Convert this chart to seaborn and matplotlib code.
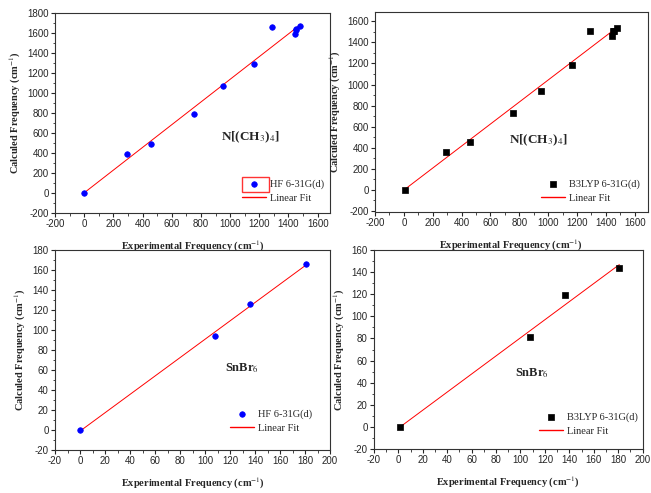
import numpy as np
import pandas as pd
import matplotlib
matplotlib.use('Agg')
import matplotlib.pyplot as plt
import seaborn as sns
from matplotlib.patches import Rectangle
from matplotlib.ticker import MultipleLocator

sns.set_style('ticks')
plt.rcParams['font.family'] = ['Liberation Serif', 'DejaVu Serif']
plt.rcParams['mathtext.fontset'] = 'stix'
plt.rcParams['axes.unicode_minus'] = False

# N[(CH3)4] data
nme4_exp = [0, 290, 455, 750, 950, 1165, 1290, 1445, 1450, 1455, 1480]
nme4_hf = [0, 385, 485, 790, 1065, 1290, 1655, 1590, 1625, 1635, 1665]
nme4_b3lyp_exp = [5, 290, 455, 755, 950, 1165, 1290, 1445, 1450, 1455, 1480]
nme4_b3lyp = [0, 360, 455, 730, 940, 1190, 1510, 1460, 1505, 1510, 1540]

# SnBr6 data
snbr6_exp = [0, 108, 136, 181]
snbr6_hf = [0, 94, 126, 166]
snbr6_b3lyp_exp = [1, 108, 136.5, 181]
snbr6_b3lyp = [0, 81, 119, 144]

fig = plt.figure(figsize=(6.51, 4.93), dpi=100)

panels = [
    dict(rect=[0.0845, 0.568, 0.4225, 0.406], x=nme4_exp, y=nme4_hf, label='HF 6-31G(d)',
         marker='o', color='#0000ff', xlim=(-200, 1685), ylim=(-200, 1800), major=200, minor=100,
         title=r'N[(CH$_3$)$_4$]', tsize=9.5, tpos=(0.71, 0.38), leg=(0.68, 0.05)),
    dict(rect=[0.576, 0.570, 0.419, 0.406], x=nme4_b3lyp_exp, y=nme4_b3lyp, label='B3LYP 6-31G(d)',
         marker='s', color='black', xlim=(-200, 1690), ylim=(-210, 1690), major=200, minor=100,
         title=r'N[(CH$_3$)$_4$]', tsize=9.5, tpos=(0.60, 0.36), leg=(0.61, 0.045)),
    dict(rect=[0.0845, 0.0872, 0.4225, 0.4057], x=snbr6_exp, y=snbr6_hf, label='HF 6-31G(d)',
         marker='o', color='#0000ff', xlim=(-20, 200), ylim=(-20, 180), major=20, minor=10,
         title=r'SnBr$_6$', tsize=9, tpos=(0.68, 0.41), leg=(0.636, 0.085)),
    dict(rect=[0.5745, 0.0892, 0.4125, 0.4037], x=snbr6_b3lyp_exp, y=snbr6_b3lyp, label='B3LYP 6-31G(d)',
         marker='s', color='black', xlim=(-20, 200), ylim=(-20, 160), major=20, minor=10,
         title=r'SnBr$_6$', tsize=9, tpos=(0.59, 0.38), leg=(0.613, 0.065)),
]

legends = []
for i, p in enumerate(panels):
    ax = fig.add_axes(p['rect'])
    df = pd.DataFrame({'x': p['x'], 'y': p['y']})
    sns.scatterplot(data=df, x='x', y='y', ax=ax, marker=p['marker'], color=p['color'],
                    s=16, edgecolor=p['color'], linewidth=0.5, label=p['label'], zorder=3)
    k, b = np.polyfit(df.x, df.y, 1)
    fit = pd.DataFrame({'x': [df.x.min(), df.x.max()]})
    fit['y'] = k * fit.x + b
    sns.lineplot(data=fit, x='x', y='y', ax=ax, color='red', linewidth=0.7, label='Linear Fit')
    ax.set_xlim(p['xlim'])
    ax.set_ylim(p['ylim'])
    ax.xaxis.set_major_locator(MultipleLocator(p['major']))
    ax.xaxis.set_minor_locator(MultipleLocator(p['minor']))
    ax.yaxis.set_major_locator(MultipleLocator(p['major']))
    ax.yaxis.set_minor_locator(MultipleLocator(p['minor']))
    ax.tick_params(which='major', direction='out', length=3, width=0.8, labelsize=7, pad=1.5)
    ax.tick_params(which='minor', direction='out', length=1.8, width=0.6)
    for lab in ax.get_xticklabels() + ax.get_yticklabels():
        lab.set_fontfamily('Liberation Sans')
    for s in ax.spines.values():
        s.set_linewidth(0.8)
        s.set_color('#333333')
    ax.set_xlabel(r'Experimental Frequency (cm$^{-1}$)', fontsize=7.5, fontweight='bold', labelpad=7)
    ax.set_ylabel(r'Calculed Frequency (cm$^{-1}$)', fontsize=7.5, fontweight='bold', labelpad=3)
    ax.text(p['tpos'][0], p['tpos'][1], p['title'], transform=ax.transAxes, fontsize=p['tsize'],
            fontweight='bold', ha='center', va='center')
    leg = ax.legend(loc='lower left', bbox_to_anchor=p['leg'], frameon=False, fontsize=7.5,
                    handlelength=2.3, handletextpad=0.4, borderpad=0, borderaxespad=0,
                    labelspacing=0.45)
    for ln in leg.get_lines():
        ln.set_color('red')
        ln.set_linewidth(1.0)
    legends.append(leg)

# red box round the first legend marker (top-left panel)
fig.canvas.draw()
t0 = legends[0].get_texts()[0].get_window_extent()
fs = 7.5 * fig.dpi / 72
x1 = t0.x0 - 0.15 * fs
x0 = t0.x0 - (0.4 + 2.3) * fs
yc = (t0.y0 + t0.y1) / 2
inv = fig.transFigure.inverted()
(fx0, fy0), (fx1, fy1) = inv.transform([(x0, yc - 7.5), (x1, yc + 7.5)])
fig.add_artist(Rectangle((fx0, fy0), fx1 - fx0, fy1 - fy0, transform=fig.transFigure,
                         fill=False, edgecolor='#ff3333', linewidth=1.0, zorder=5))

fig.savefig('out.png', dpi=100)
